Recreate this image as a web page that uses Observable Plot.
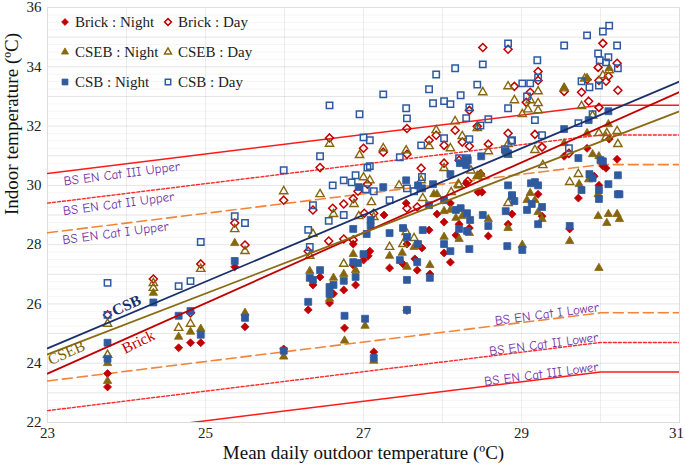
<!DOCTYPE html>
<html><head><meta charset="utf-8">
<script src="https://cdn.jsdelivr.net/npm/d3@7"></script>
<script src="https://cdn.jsdelivr.net/npm/@observablehq/plot@0.6"></script>
<style>
body{margin:0;background:#fff;}
#wrap{position:relative;width:685px;height:468px;}
.leg{position:absolute;font-family:"Liberation Serif",serif;font-size:15px;color:#222;display:flex;align-items:center;white-space:nowrap;height:20px;}
.leg svg{margin-right:3px;}
</style></head><body>
<div id="wrap"></div>
<script>
// ---------- data ----------
const brickNight = [
[23.76,23.65],[23.76,23.2],[24.66,24.52],[24.81,24.69],[24.94,24.69],[25.37,27.25],[25.5,25.23],[25.99,24.48],
[27.26,29.0],[27.33,27.21],[26.87,28.02],[26.87,27.31],[26.9,26.64],[26.75,26.47],[27.0,27.48],[27.06,27.62],[27.08,27.78],[26.36,26.64],[26.45,26.91],[26.62,26.34],[26.57,26.03],[26.3,25.8],[26.76,25.19],[27.13,24.38],[27.55,25.78],
[27.54,29.4],[28.1,29.4],[27.93,29.03],[28.02,28.76],[28.21,28.69],[28.34,28.56],[28.17,28.32],[28.02,27.72],[28.1,27.41],[28.58,28.29],[28.83,28.69],[27.83,28.49],[27.74,27.89],[27.55,28.02],[27.5,27.35],[27.65,27.52],[27.68,27.14],[27.84,27.01],
[28.3,30.07],[28.45,29.77],[28.5,29.77],[29.54,30.98],[29.83,31.25],[30.11,31.56],[30.21,30.88],[29.88,30.34],[29.98,30.0],[30.07,30.58],[29.72,29.57],[29.87,30.27],[29.92,30.31],[30.03,30.65],[29.21,29.7],
[29.26,28.96],[28.88,29.03],[29.61,28.53]
];
const brickDay = [
[23.76,25.63],[24.34,26.84],[24.81,25.7],[24.94,27.35],[25.37,28.73],[25.5,27.99],[25.99,29.5],
[26.57,31.6],[27.0,31.25],[27.25,31.12],[26.45,30.6],[27.05,30.04],[26.93,29.8],[27.55,31.92],[27.92,31.69],[28.02,31.35],[28.16,31.86],[28.25,31.46],[28.34,32.53],[28.34,31.32],[28.51,34.65],[28.44,31.99],[28.58,31.39],[28.83,34.59],[28.83,31.76],[28.91,33.34],[29.11,33.14],[29.06,32.8],[29.21,33.84],[29.21,33.54],[29.17,31.72],[29.26,31.29],[29.54,33.17],[30.03,34.79],[29.97,33.98],[30.21,34.12],[30.1,33.68],[29.98,33.54],[30.07,33.51],[30.22,33.21],[29.83,33.57],[29.76,33.14],[29.85,32.84],[29.98,32.63],[27.55,31.05],[27.83,31.52],
[27.73,30.58],[28.02,30.75],[28.21,30.85],[28.32,30.14],[28.48,30.38],[29.6,31.08],
[26.36,29.17],[26.61,29.23],[26.75,29.37],[26.87,29.55],[27.01,29.06],[27.13,29.06],[26.56,28.12],[26.3,27.78],[26.75,28.19],[26.87,28.16],
[27.55,29.23],[27.68,29.27]
];
const csebNight = [
[23.76,24.0],[23.76,23.4],[24.34,26.37],[24.66,24.89],[24.81,25.06],[24.94,25.16],[25.37,28.05],[25.5,25.7],[25.99,24.22],
[29.83,31.76],[30.1,32.06],[29.54,31.42],[29.9,31.05],[28.83,31.02],[29.73,30.04],[29.98,30.98],[29.85,30.2],[29.97,29.7],[30.11,33.95],[29.83,33.62],[29.54,33.3],
[28.49,30.38],[28.45,30.31],
[27.33,27.62],[26.87,27.68],[26.9,27.14],[26.75,27.01],[26.32,27.11],[26.62,26.88],[26.57,26.17],[26.76,24.76],[27.02,25.26],[27.13,24.08],
[27.89,29.7],[27.93,29.7],[28.02,29.13],[28.1,29.17],[28.25,28.96],[28.17,28.9],[28.34,28.39],[28.21,28.19],[28.02,28.26],[28.58,28.86],[28.83,28.56],[27.64,27.92],[27.49,27.72],[27.55,27.25],[27.84,27.31],
[29.07,29.5],[29.17,29.5],[29.21,29.1],[29.26,28.86],[29.01,27.99],[29.61,28.12],[29.98,27.21],[29.97,28.96],[30.1,29.03],[30.08,28.73],[30.21,29.03],[30.24,28.86],[29.11,29.74]
];
const csebDay = [
[23.76,25.33],[23.76,24.28],[24.34,26.7],[24.34,26.54],[24.66,25.19],[24.81,25.33],[24.94,27.18],[25.37,28.52],[25.5,27.78],[25.99,29.8],
[26.57,31.4],[26.95,31.02],[27.25,31.25],[27.0,30.27],[27.08,30.17],[26.45,29.7],[27.83,31.32],[27.92,31.86],[28.1,31.25],[28.16,32.16],[28.25,31.66],[28.51,33.14],[28.58,31.15],[28.83,33.34],[28.91,32.87],[29.01,32.4],[29.11,32.87],[29.08,32.56],[29.21,32.77],[29.21,32.53],[29.21,33.17],[29.17,31.19],[29.54,33.27],[30.11,33.88],[30.03,33.71],[29.8,33.6],[29.76,32.67],[29.98,31.76],[30.08,31.76],[30.21,31.83],[30.22,31.39],[30.07,31.62],[27.54,31.18],[28.44,31.93],[29.9,32.35],
[27.45,30.0],[27.73,30.17],[28.02,30.58],[28.36,30.5],[28.21,30.0],[28.11,29.77],[28.83,31.39],
[29.61,30.11],[29.72,30.38],[29.27,30.68],
[26.62,29.03],[26.88,29.37],[27.1,29.43],[26.36,28.36],[26.94,28.96],[27.13,28.93],[27.33,27.92],[26.32,27.62],[26.75,27.35],
[27.75,29.57],[28.83,29.4],[27.54,28.42],[27.5,28.02],[27.64,28.22],[28.2,30.04],[28.44,30.31]
];
const csbNight = [
[23.76,24.69],[23.76,24.15],[24.34,26.05],[24.66,25.6],[24.81,25.76],[24.94,24.96],[25.37,27.45],[25.5,25.53],[25.99,24.42],
[26.94,29.94],[27.25,29.94],[30.1,32.5],[29.85,32.2],[29.54,31.9],[29.72,30.92],[30.0,30.85],[28.49,30.98],[28.83,31.08],
[27.54,30.17],[27.69,30.0],[27.74,29.9],[27.88,30.04],[28.1,30.38],[28.3,30.68],[28.83,30.0],[28.8,31.15],[28.22,30.75],[28.32,30.85],
[29.17,30.11],[29.21,30.0],[29.76,29.84],[29.86,30.38],[29.9,30.24],[29.98,29.84],[30.03,30.81],[30.1,30.04],[30.22,30.34],[30.24,29.7],[29.12,30.07],[28.88,29.67],
[26.87,28.53],[27.09,28.83],[27.09,28.63],[27.04,28.36],[27.33,28.39],[26.87,27.41],[26.93,27.38],[26.9,26.91],[26.75,26.78],[27.0,27.68],[26.45,27.14],[26.32,26.88],[26.36,26.81],[26.62,26.64],[26.57,26.57],[26.57,26.34],[26.3,26.07],[26.76,25.6],[27.02,25.5],[27.13,24.18],[27.55,25.8],
[27.83,29.33],[28.02,29.5],[28.17,29.17],[28.23,29.23],[28.31,29.06],[28.35,28.83],[28.21,28.53],[28.31,28.46],[28.02,28.02],[28.1,27.78],[28.34,27.85],[28.51,29.0],[28.58,28.63],[28.82,27.95],[28.8,29.13],[28.88,29.64],[27.5,28.56],[27.55,28.26],[27.75,28.49],[27.69,28.02],[27.46,27.48],[27.68,27.41],[27.55,26.81],[27.84,26.88],
[28.91,29.47],[29.07,29.17],[29.13,29.37],[29.26,29.27],[29.21,28.69],[29.01,27.82],[29.61,28.63],[29.98,29.54],[30.22,29.7]
];
const csbDay = [
[23.76,26.71],[23.76,25.63],[24.66,26.6],[24.81,26.77],[24.94,28.09],[25.37,28.96],[25.5,28.73],[25.99,30.51],
[26.57,32.7],[26.95,32.4],[27.25,33.07],[27.0,31.62],[27.08,31.52],[26.45,30.98],[27.05,30.6],[27.08,30.65],[26.61,30.0],[26.75,30.17],[26.85,30.1],[26.9,30.34],[27.13,29.8],[27.54,32.6],[27.55,32.26],[27.73,31.35],[27.83,33.24],[27.88,32.77],[27.92,33.74],[28.02,32.84],[28.1,32.74],[28.02,31.59],[28.16,33.95],[28.23,33.04],[28.3,32.27],[28.34,32.63],[28.34,31.56],[28.44,33.4],[28.51,34.08],[28.58,32.23],[28.48,32.02],[28.83,34.79],[28.83,32.6],[28.88,31.52],[29.01,33.44],[29.11,33.44],[29.07,33.0],[29.17,32.2],[29.2,34.22],[29.21,33.64],[29.26,31.69],[29.54,34.72],[29.83,35.06],[30.03,35.19],[30.11,35.39],[30.21,34.72],[29.97,34.45],[29.99,34.22],[30.07,34.15],[30.1,34.32],[30.22,33.95],[29.98,33.37],[29.76,33.51],[29.86,33.31],[29.9,32.4],[29.72,32.1],[28.79,31.22],[28.21,30.92],[28.31,30.92],[27.46,30.95],
[27.55,29.9],[27.74,30.28],[27.64,29.8],[28.31,30.88],[28.87,31.5],[29.6,31.25],
[26.36,29.33],[26.75,29.0],[26.56,28.8],[26.3,28.5],[27.33,29.5],[26.32,27.92],[27.03,29.87]
];

// regression lines (end points)
const regX = [23, 31];
const csbFit = [24.5, 33.5];
const csebFit = [24.3, 32.5];
const brickFit = [23.65, 33.15];

// BS EN 15251 comfort limits
const bandX = [23, 30, 31];
const cat3Upper = [30.4, 32.7, 32.7];
const cat2Upper = [29.4, 31.7, 31.7];
const cat1Upper = [28.4, 30.7, 30.7];
const cat1Lower = [23.4, 25.7, 25.7];
const cat2Lower = [22.4, 24.7, 24.7];
const cat3Lower = [21.4, 23.7, 23.7];

const bandLabels = [
  {text:"BS EN Cat III Upper", x:23.94, y:30.39},
  {text:"BS EN Cat II Upper", x:23.90, y:29.38},
  {text:"BS EN Cat I Upper", x:23.86, y:28.39},
  {text:"BS EN Cat I Lower", x:29.32, y:25.66},
  {text:"BS EN Cat II Lower", x:29.28, y:24.64},
  {text:"BS EN Cat III Lower", x:29.25, y:23.63}
];
const fitLabels = [
  {text:"CSB", x:24.0, y:25.95},
  {text:"CSEB", x:23.24, y:24.35},
  {text:"Brick", x:24.15, y:24.72}
];
const legendLabels = ["Brick : Night","Brick : Day","CSEB : Night","CSEB : Day","CSB : Night","CSB : Day"];
const xTicks = [23,25,27,29];
const xLastTick = [31];
const yTicks = [22,24,26,28,30,32,34,36];
const xTitle = "Mean daily outdoor temperature (ºC)";
const yTitle = "Indoor temperature (ºC)";

// ---------- styling ----------
const RED = "#C00000", OLIVE = "#86670F", BLUE = "#2F5AA0", NAVY = "#1B2F6B", PURPLE = "#7030A0";
const SERIF = '"Liberation Serif", "Times New Roman", serif';
const HAND = '"Comic Sans MS", "Comic Neue", Lato, sans-serif';

const seriesDefs = [
  {data: brickNight, symbol:"diamond2", d3s: d3.symbolDiamond2, r:3.6, fill:RED, stroke:RED, sw:0.8},
  {data: brickDay, symbol:"diamond2", d3s: d3.symbolDiamond2, r:3.6, fill:"none", stroke:RED, sw:1.5},
  {data: csebNight, symbol:"triangle", d3s: d3.symbolTriangle, r:3.1, fill:OLIVE, stroke:OLIVE, sw:0.8},
  {data: csebDay, symbol:"triangle", d3s: d3.symbolTriangle, r:3.1, fill:"none", stroke:OLIVE, sw:1.4},
  {data: csbNight, symbol:"square", d3s: d3.symbolSquare, r:3.9, fill:BLUE, stroke:BLUE, sw:0.8},
  {data: csbDay, symbol:"square", d3s: d3.symbolSquare, r:3.6, fill:"none", stroke:BLUE, sw:1.5}
];

const toPts = (xs, ys) => xs.map((x,i) => ({x, y: ys[i]}));
const bandLine = (ys, stroke, dash, w) => Plot.line(toPts(bandX, ys), {x:"x", y:"y", stroke, strokeWidth:w, strokeDasharray:dash, clip:true});
const fitLine = (ys, stroke) => Plot.line(toPts(regX, ys), {x:"x", y:"y", stroke, strokeWidth:1.8, clip:true});

const chart = Plot.plot({
  width: 685, height: 468,
  marginLeft: 47, marginRight: 6, marginTop: 7, marginBottom: 46,
  x: {domain:[23,31]},
  y: {domain:[22,36]},
  style: {fontFamily: SERIF, fontSize:"15px", color:"#222", background:"#fff"},
  marks: [
    Plot.gridY(d3.range(22, 36.001, 0.25), {stroke:"#000", strokeOpacity:0.04}),
    Plot.gridY(d3.range(22, 37, 1), {stroke:"#000", strokeOpacity:0.07}),
    Plot.gridX(d3.range(23, 32, 1), {stroke:"#000", strokeOpacity:0.07}),
    Plot.frame({stroke:"#dedede"}),
    Plot.axisX(xTicks, {tickSize:0, tickPadding:5, fontSize:15, label:null}),
    Plot.axisX(xLastTick, {tickSize:0, tickPadding:5, fontSize:15, label:null, dx:-3}),
    Plot.axisY(yTicks, {tickSize:0, tickPadding:6, fontSize:15, label:null}),
    Plot.text([xTitle], {frameAnchor:"bottom", dy:36, fontSize:19, fill:"#111"}),
    Plot.text([yTitle], {frameAnchor:"left", rotate:-90, dx:-36, fontSize:19, fill:"#111"}),
    bandLine(cat3Upper, "#FF1A1A", null, 1.5),
    bandLine(cat2Upper, "#FF2A2A", "3,2", 1.4),
    bandLine(cat1Upper, "#F2853A", "10,5", 1.6),
    bandLine(cat1Lower, "#F2853A", "10,5", 1.6),
    bandLine(cat2Lower, "#FF2A2A", "3,2", 1.4),
    bandLine(cat3Lower, "#FF1A1A", null, 1.5),
    ...seriesDefs.map(s => Plot.dot(s.data, {x: d => d[0], y: d => d[1], symbol: s.symbol, r: s.r, fill: s.fill, stroke: s.stroke, strokeWidth: s.sw})),
    fitLine(brickFit, RED),
    fitLine(csebFit, "#8A6A12"),
    fitLine(csbFit, NAVY),
    Plot.text(bandLabels, {x:"x", y:"y", text:"text", rotate:-7.5, fill:PURPLE, fontSize:13, fontFamily:HAND}),
    Plot.text([fitLabels[0]], {x:"x", y:"y", text:"text", rotate:-24, fill:NAVY, fontSize:15.5, fontWeight:"600"}),
    Plot.text([fitLabels[1]], {x:"x", y:"y", text:"text", rotate:-24, fill:"#7F6000", fontSize:15.5}),
    Plot.text([fitLabels[2]], {x:"x", y:"y", text:"text", rotate:-26, fill:RED, fontSize:15.5})
  ]
});
const wrap = document.getElementById("wrap");
wrap.appendChild(chart);

// legend (HTML overlay inside plot area)
const legCols = [58, 161], legTop = 12, legRow = 30;
legendLabels.forEach((lab, i) => {
  const s = seriesDefs[i];
  const div = document.createElement("div");
  div.className = "leg";
  div.style.left = legCols[i % 2] + "px";
  div.style.top = (legTop + Math.floor(i / 2) * legRow) + "px";
  const size = Math.PI * (s.r * 0.85) ** 2;
  const svg = d3.create("svg").attr("width", 14).attr("height", 14).attr("viewBox", "-7 -7 14 14");
  svg.append("path").attr("d", d3.symbol(s.d3s, size)()).attr("fill", s.fill).attr("stroke", s.stroke).attr("stroke-width", s.sw);
  div.appendChild(svg.node());
  const span = document.createElement("span");
  span.textContent = lab;
  div.appendChild(span);
  wrap.appendChild(div);
});
</script></body></html>
